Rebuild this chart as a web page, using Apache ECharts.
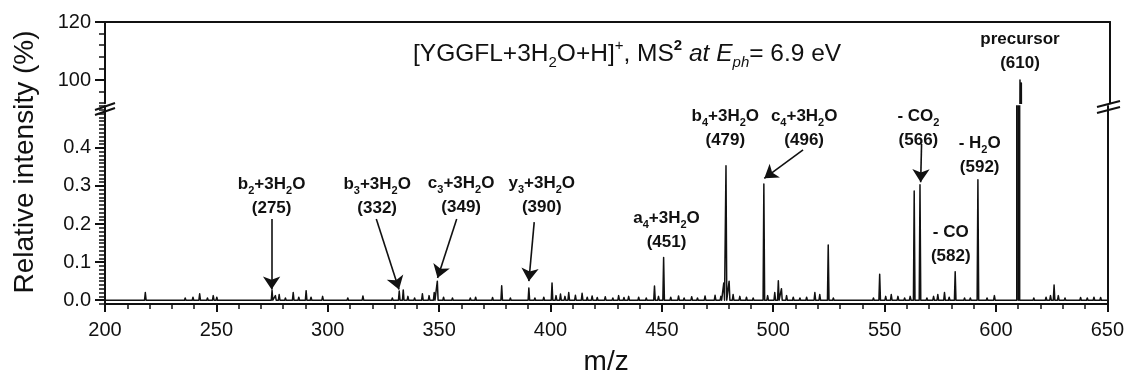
<!DOCTYPE html>
<html>
<head>
<meta charset="utf-8">
<script src="https://cdn.jsdelivr.net/npm/echarts@6/dist/echarts.min.js"></script>
<style>
html, body { margin: 0; padding: 0; background: #fff; }
#chart { width: 1127px; height: 381px; }
</style>
</head>
<body>
<div id="chart"></div>
<script>
// MS2 spectrum of [YGGFL+3H2O+H]+, broken y axis (0-0.5 % / 92-120 %)
const mzMin = 200;
const mzMax = 650;
const upperTicks = [100, 120];
const lowerTicks = [0, 0.1, 0.2, 0.3, 0.4];

// assigned fragment peaks [m/z, relative intensity %]
const mainPeaks = [
  [275.0, 0.026], [332.1, 0.024], [333.9, 0.027], [349.2, 0.05], [390.3, 0.032],
  [450.8, 0.112], [478.8, 0.353], [495.8, 0.305], [524.7, 0.145], [547.8, 0.068],
  [563.3, 0.287], [565.9, 0.303], [581.7, 0.075], [591.9, 0.316]
];
const precursorPeaks = [[609.7, 100], [610.3, 99]];

// small background peaks
const noisePeaks = [
  [203.5, 0.004], [207, 0.003], [212, 0.004], [218.1, 0.02], [222, 0.003], [228, 0.004],
  [232, 0.005], [236, 0.006], [239.5, 0.008], [242.5, 0.017], [246, 0.006], [248.6, 0.012],
  [250.2, 0.008], [255, 0.004], [260, 0.003], [265, 0.004], [270, 0.005], [276.5, 0.012],
  [278.2, 0.015], [281, 0.006], [284.5, 0.02], [287, 0.008], [290.3, 0.025], [292.5, 0.008],
  [297.7, 0.01], [301, 0.005], [305, 0.004], [309, 0.006], [312, 0.004], [315.8, 0.011],
  [320, 0.005], [325, 0.004], [329, 0.006], [336, 0.01], [339, 0.006], [342.5, 0.017],
  [345.5, 0.012], [347.8, 0.02], [352, 0.008], [356, 0.006], [360, 0.005], [364, 0.006],
  [366.4, 0.008], [370, 0.005], [374, 0.007], [378.1, 0.038], [382, 0.006], [386, 0.005],
  [393, 0.006], [397, 0.008], [400.7, 0.045], [402.5, 0.012], [404.5, 0.016], [406.5, 0.01],
  [408.2, 0.02], [411.2, 0.013], [414.2, 0.018], [416.5, 0.008], [418.7, 0.011], [421, 0.007],
  [424.6, 0.009], [428, 0.006], [430.6, 0.012], [433, 0.007], [435.1, 0.01], [439.6, 0.008],
  [443, 0.006], [446.7, 0.037], [448.5, 0.01], [454, 0.008], [457.5, 0.011], [460, 0.006],
  [463.4, 0.009], [466, 0.006], [469.4, 0.011], [473.9, 0.013], [476.5, 0.01], [477.8, 0.045],
  [480.2, 0.05], [482, 0.015], [485, 0.01], [488, 0.008], [491, 0.006], [497.5, 0.012],
  [500.7, 0.02], [502.3, 0.051], [503.7, 0.03], [506, 0.012], [509, 0.008], [512, 0.006],
  [515, 0.008], [518.7, 0.02], [520.9, 0.015], [527, 0.006], [530, 0.005], [534, 0.004],
  [538, 0.005], [542, 0.004], [545, 0.006], [550.5, 0.01], [553, 0.015], [556, 0.01],
  [559, 0.006], [561.5, 0.01], [569, 0.006], [572, 0.01], [573.9, 0.015], [576.9, 0.02],
  [579, 0.008], [585.9, 0.006], [588.5, 0.006], [596, 0.006], [599.3, 0.012], [602, 0.005],
  [605, 0.004], [614, 0.005], [617, 0.006], [620, 0.005], [622.5, 0.008], [624.5, 0.012],
  [626.1, 0.04], [628, 0.012], [631, 0.006], [635, 0.005], [638, 0.007], [641, 0.006],
  [644, 0.008], [647, 0.007]
];

// peak labels ("_" = subscript) and nominal m/z
const labelNames = ['b_2+3H_2O', 'b_3+3H_2O', 'c_3+3H_2O', 'y_3+3H_2O', 'a_4+3H_2O',
  'b_4+3H_2O', 'c_4+3H_2O', '- CO_2', '- H_2O', '- CO'];
const labelMz = [275, 332, 349, 390, 451, 479, 496, 566, 592, 582];
// label centres in data units [m/z, %]
const labelAnchors = [[274.8, 0.272], [322.2, 0.272], [359.9, 0.276], [396.1, 0.276],
  [452.1, 0.183], [478.5, 0.451], [513.9, 0.452], [565.2, 0.452], [592.7, 0.381], [579.7, 0.147]];
const precursorAnchor = [609.7, 110];

// arrows [from, to] in data units
const arrows = [
  [[274.8, 0.213], [274.8, 0.028]],
  [[321.8, 0.213], [332.0, 0.028]],
  [[357.9, 0.213], [349.3, 0.058]],
  [[392.7, 0.205], [390.3, 0.05]],
  [[513.4, 0.395], [496.0, 0.32]],
  [[566.6, 0.41], [566.2, 0.31]]
];

const FONT = '"Liberation Sans", Arial, sans-serif';
const INK = '#111';

// stick spectrum for the line series
const HALF = 0.35;
const spectrum = [[mzMin, 0]];
mainPeaks.concat(noisePeaks, precursorPeaks)
  .sort((a, b) => a[0] - b[0])
  .forEach(p => {
    spectrum.push([p[0] - HALF, 0], [p[0], p[1]], [p[0] + HALF, 0]);
  });
spectrum.push([mzMax, 0]);

function richLabel(name, mz) {
  const body = '{b|' + name.replace(/_(\w)/g, '}{s|$1}{b|') + '}';
  return body + '\n{b|(' + mz + ')}';
}

const labelRich = {
  b: { fontFamily: FONT, fontSize: 17, fontWeight: 'bold', color: INK, lineHeight: 24 },
  s: { fontFamily: FONT, fontSize: 11, fontWeight: 'bold', color: INK, lineHeight: 14, verticalAlign: 'bottom' }
};
const labelBase = {
  show: true, position: 'inside', align: 'center', verticalAlign: 'middle',
  color: INK, textBorderWidth: 0, textBorderColor: 'transparent', rich: labelRich
};

const chart = echarts.init(document.getElementById('chart'));

const axisLine = { show: true, onZero: false, lineStyle: { color: INK, width: 2 } };
const noTicks = { show: false };

chart.setOption({
  animation: false,
  backgroundColor: '#fff',
  title: {
    left: 408,
    top: 33,
    text: '{n|[YGGFL+3H}{sub|2}{n|O+H]}{sup|+}{n|, MS}{supb|2}{n| }{it|at E}{itsub|ph}{n|= 6.9 eV}',
    textStyle: {
      fontWeight: 'normal',
      rich: {
        n: { fontFamily: FONT, fontSize: 24.5, fontWeight: 'normal', color: INK, lineHeight: 32 },
        sub: { fontFamily: FONT, fontSize: 15, fontWeight: 'normal', color: INK, lineHeight: 6, verticalAlign: 'bottom' },
        sup: { fontFamily: FONT, fontSize: 15, fontWeight: 'normal', color: INK, lineHeight: 20, verticalAlign: 'top' },
        supb: { fontFamily: FONT, fontSize: 15, fontWeight: 'bold', color: INK, lineHeight: 20, verticalAlign: 'top' },
        it: { fontFamily: FONT, fontSize: 24.5, fontWeight: 'normal', fontStyle: 'italic', color: INK, lineHeight: 32 },
        itsub: { fontFamily: FONT, fontSize: 15, fontWeight: 'normal', fontStyle: 'italic', color: INK, lineHeight: 6, verticalAlign: 'bottom' }
      }
    }
  },
  grid: [
    { left: 105, right: 17, top: 22, height: 81.2 },
    { left: 105, right: 17, top: 106, bottom: 72 }
  ],
  xAxis: [
    {
      gridIndex: 0, type: 'value', position: 'top', min: mzMin, max: mzMax,
      axisLine: axisLine, axisTick: noTicks, axisLabel: { show: false }, splitLine: { show: false }
    },
    {
      gridIndex: 1, type: 'value', position: 'bottom', min: mzMin, max: mzMax, interval: 50,
      axisLine: axisLine,
      axisTick: { show: true, length: 8, lineStyle: { color: INK, width: 2 } },
      minorTick: { show: true, splitNumber: 5, length: 5, lineStyle: { color: INK, width: 1.5 } },
      axisLabel: { fontFamily: FONT, fontSize: 20, color: INK, margin: 16 },
      splitLine: { show: false },
      name: 'm/z', nameLocation: 'middle', nameGap: 44,
      nameTextStyle: { fontFamily: FONT, fontSize: 28, color: INK }
    }
  ],
  yAxis: [
    {
      gridIndex: 0, type: 'value', position: 'left', min: 92, max: 120, interval: 4,
      axisLine: axisLine,
      axisTick: { show: true, length: 6, lineStyle: { color: INK, width: 1.5 } },
      axisLabel: { show: false }, splitLine: { show: false }
    },
    {
      gridIndex: 0, type: 'value', position: 'left', min: 92, max: 120,
      axisLine: { show: false },
      axisTick: { show: true, length: 10, customValues: upperTicks, lineStyle: { color: INK, width: 2 } },
      axisLabel: { customValues: upperTicks, fontFamily: FONT, fontSize: 20, color: INK, margin: 14 },
      splitLine: { show: false }
    },
    {
      gridIndex: 0, type: 'value', position: 'right', min: 92, max: 120,
      axisLine: axisLine, axisTick: noTicks, axisLabel: { show: false }, splitLine: { show: false }
    },
    {
      gridIndex: 1, type: 'value', position: 'left', min: -0.01, max: 0.51, interval: 0.01,
      axisLine: axisLine,
      axisTick: { show: true, length: 6, lineStyle: { color: INK, width: 1.5 } },
      axisLabel: { show: false }, splitLine: { show: false }
    },
    {
      gridIndex: 1, type: 'value', position: 'left', min: -0.01, max: 0.51,
      axisLine: { show: false },
      axisTick: { show: true, length: 10, customValues: lowerTicks, lineStyle: { color: INK, width: 2 } },
      axisLabel: {
        customValues: lowerTicks, fontFamily: FONT, fontSize: 20, color: INK, margin: 14,
        formatter: v => v.toFixed(1)
      },
      splitLine: { show: false }
    },
    {
      gridIndex: 1, type: 'value', position: 'right', min: -0.01, max: 0.51,
      axisLine: axisLine, axisTick: noTicks, axisLabel: { show: false }, splitLine: { show: false }
    }
  ],
  series: [
    {
      type: 'line', xAxisIndex: 0, yAxisIndex: 0, data: spectrum, symbol: 'none', silent: true,
      clip: true, lineStyle: { color: INK, width: 1.5, join: 'round' }
    },
    {
      type: 'line', xAxisIndex: 1, yAxisIndex: 3, data: spectrum, symbol: 'none', silent: true,
      clip: true, lineStyle: { color: INK, width: 1.5, join: 'round' },
      markLine: {
        silent: true,
        symbol: ['none', 'arrow'],
        symbolSize: 13,
        label: { show: false },
        itemStyle: { color: INK },
        lineStyle: { color: INK, width: 1.6, type: 'solid' },
        data: arrows.map(a => [{ coord: a[0] }, { coord: a[1] }])
      }
    },
    {
      type: 'scatter', xAxisIndex: 1, yAxisIndex: 3, symbolSize: 0, silent: true,
      itemStyle: { color: INK, opacity: 1 },
      data: labelAnchors.map((p, i) => ({
        value: p,
        label: { formatter: richLabel(labelNames[i], labelMz[i]) }
      })),
      label: labelBase
    },
    {
      type: 'scatter', xAxisIndex: 0, yAxisIndex: 0, symbolSize: 0, silent: true,
      itemStyle: { color: INK, opacity: 1 },
      data: [{ value: precursorAnchor, label: { formatter: richLabel('precursor', 610) } }],
      label: labelBase
    }
  ],
  graphic: [
    {
      type: 'text', x: 25, y: 162, rotation: Math.PI / 2,
      style: {
        text: 'Relative intensity (%)', font: '28px "Liberation Sans", Arial, sans-serif',
        fill: INK, align: 'center', verticalAlign: 'middle',
        textAlign: 'center', textVerticalAlign: 'middle'
      }
    },
    { type: 'line', shape: { x1: 95, y1: 110, x2: 115, y2: 103 }, style: { stroke: INK, lineWidth: 2 } },
    { type: 'line', shape: { x1: 95, y1: 115, x2: 115, y2: 108 }, style: { stroke: INK, lineWidth: 2 } },
    { type: 'line', shape: { x1: 1097, y1: 107, x2: 1120, y2: 101 }, style: { stroke: INK, lineWidth: 2 } },
    { type: 'line', shape: { x1: 1097, y1: 113, x2: 1120, y2: 107 }, style: { stroke: INK, lineWidth: 2 } }
  ]
});
</script>
</body>
</html>
